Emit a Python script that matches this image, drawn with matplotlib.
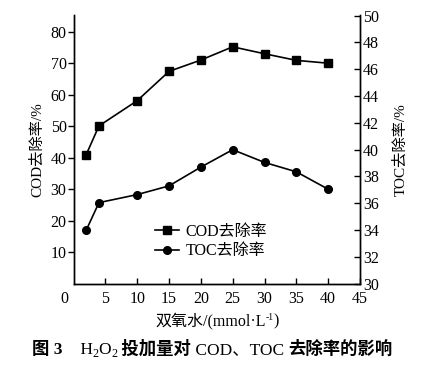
import numpy as np
import matplotlib
matplotlib.use("Agg")
import matplotlib.pyplot as plt
import matplotlib.transforms as mtrans

plt.rcParams['font.family'] = ['Liberation Serif', 'Noto Sans CJK SC']

dose = [2, 4, 10, 15, 20, 25, 30, 35, 40]
cod = [41.0, 50.1, 58.1, 67.4, 71.0, 75.2, 73.0, 70.9, 70.0]
toc = [34.0, 36.05, 36.65, 37.3, 38.7, 40.0, 39.05, 38.35, 37.05]

xticks = [0, 5, 10, 15, 20, 25, 30, 35, 40, 45]
cod_ticks = [10, 20, 30, 40, 50, 60, 70, 80]
toc_ticks = [30, 32, 34, 36, 38, 40, 42, 44, 46, 48, 50]

fig = plt.figure(figsize=(4.36, 3.65), dpi=100)
ax = fig.add_axes([0.1686, 0.2227, 0.6571, 0.7362])
ax2 = ax.twinx()

l1, = ax.plot(dose, cod, '-s', color='black', lw=1.2, ms=5.5)
l2, = ax2.plot(dose, toc, '-o', color='black', lw=1.2, ms=5.5)

ax.set_xlim(0, 45)
ax.set_ylim(0, 85.3)
ax2.set_ylim(30, 50.05)

ax.set_xticks(xticks)
ax.set_xticklabels([str(t) for t in xticks])
ax.set_yticks(cod_ticks)
ax2.set_yticks(toc_ticks)

for a in (ax, ax2):
    a.spines['top'].set_visible(False)
    for s in a.spines.values():
        s.set_linewidth(1.0)

ax.tick_params(axis='x', direction='in', length=4, width=1, labelsize=11.5, pad=5)
ax.tick_params(axis='y', direction='out', length=4, width=1, labelsize=11.5, pad=1)
ax2.tick_params(axis='y', direction='in', length=4, width=1, labelsize=11.5, pad=2)

# "0" sits in the corner, shifted left and without a tick mark
ax.xaxis.get_major_ticks()[0].tick1line.set_visible(False)
lab0 = ax.get_xticklabels()[0]
lab0.set_transform(lab0.get_transform() + mtrans.ScaledTranslation(-9 / 100, 0, fig.dpi_scale_trans))

ax.set_ylabel('COD去除率/%', fontsize=11, labelpad=5)
ax2.set_ylabel('TOC去除率/%', fontsize=11, rotation=90, labelpad=10)


def run(x, y, parts, base):
    # successive text pieces; sup/sub pieces are smaller and shifted
    first = fig.text(x, y, parts[0][0], ha='left', va='baseline', fontsize=base,
                     fontweight=parts[0][2])
    rest = []
    for txt, kind, w in parts[1:]:
        size, dy = base, 0
        if kind == 'sup':
            size, dy = base * 0.6, 5
        elif kind == 'sub':
            size, dy = base * 0.7, -3
        a = fig.text(0, 0, txt, fontsize=size, ha='left', va='baseline', fontweight=w)
        rest.append((a, dy))
    return first, rest


def layout(first, rest, x, y):
    r = fig.canvas.get_renderer()
    xpx = first.get_window_extent(r).x1
    ypx = fig.transFigure.transform((x, y))[1]
    for a, dy in rest:
        a.set_transform(mtrans.IdentityTransform())
        a.set_position((xpx, ypx + dy))
        xpx = a.get_window_extent(r).x1


xl_parts = [('双氧水/(mmol·L', '', 'normal'), ('-1', 'sup', 'normal'), (')', '', 'normal')]
cap_parts = [('图 3', '', 'bold'), ('　H', '', 'normal'), ('2', 'sub', 'normal'),
             ('O', '', 'normal'), ('2', 'sub', 'normal'), (' 投加量对', '', 'bold'),
             (' COD、TOC ', '', 'normal'), ('去除率的影响', '', 'bold')]

xl_x, xl_y = 155 / 436, 1 - 325 / 365
cap_x, cap_y = 32 / 436, 1 - 354 / 365
f1, c1 = run(xl_x, xl_y, xl_parts, 11.5)
f2, c2 = run(cap_x, cap_y, cap_parts, 12.5)
fig.canvas.draw()
layout(f1, c1, xl_x, xl_y)
layout(f2, c2, cap_x, cap_y)

ax.legend([l1, l2], ['COD去除率', 'TOC去除率'], loc='center left',
          bbox_to_anchor=(0.236, 0.157), frameon=False, fontsize=11.5,
          handlelength=1.5, handletextpad=0.4, labelspacing=0.2, borderpad=0.4)

fig.savefig('out.png', dpi=100)
